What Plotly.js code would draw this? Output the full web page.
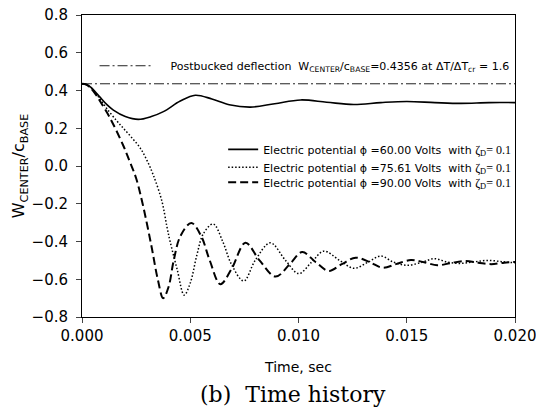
<!DOCTYPE html>
<html>
<head>
<meta charset="utf-8">
<script src="https://cdn.plot.ly/plotly-3.0.1.min.js"></script>
<style>body{margin:0;background:#fff}#chart{width:536px;height:412px}</style>
</head>
<body>
<div id="chart"></div>
<script>
const postbuckled = 0.4356;
const timeRange = [0, 0.02];
const timeTicks = [0, 0.005, 0.01, 0.015, 0.02];
const timeTickText = ['0.000', '0.005', '0.010', '0.015', '0.020'];

const t60 = [0, 0.0002, 0.0004, 0.0006, 0.00083, 0.00115, 0.00145, 0.002, 0.0026, 0.0032, 0.00376, 0.00454,
  0.00523, 0.006, 0.0068, 0.00778, 0.0089, 0.0101, 0.0113, 0.01255, 0.0138, 0.015, 0.0163, 0.0175, 0.0188, 0.02];
const w60 = [0.4356, 0.432, 0.418, 0.395, 0.365, 0.325, 0.296, 0.262, 0.247, 0.262, 0.288, 0.344,
  0.375, 0.355, 0.325, 0.312, 0.33, 0.35, 0.338, 0.326, 0.336, 0.342, 0.336, 0.332, 0.336, 0.336];

const t75 = [0, 0.0002, 0.0004, 0.0006, 0.00083, 0.00114, 0.0016, 0.00191, 0.0023, 0.00269, 0.003, 0.0033,
  0.00369, 0.00392, 0.00407, 0.0044, 0.00472, 0.005, 0.00531, 0.0056, 0.00606, 0.0065, 0.0069, 0.00747,
  0.008, 0.0087, 0.0094, 0.01001, 0.0106, 0.01117, 0.0119, 0.01256, 0.0132, 0.0138, 0.0144, 0.01503,
  0.0157, 0.01627, 0.0169, 0.0175, 0.0181, 0.01873, 0.0194, 0.02];
const w75 = [0.4356, 0.431, 0.415, 0.39, 0.355, 0.305, 0.24, 0.2, 0.15, 0.095, 0.03, -0.05,
  -0.186, -0.32, -0.4, -0.55, -0.684, -0.62, -0.47, -0.36, -0.307, -0.4, -0.52, -0.609,
  -0.5, -0.407, -0.5, -0.57, -0.51, -0.451, -0.5, -0.542, -0.51, -0.477, -0.51, -0.526,
  -0.51, -0.491, -0.51, -0.516, -0.508, -0.5, -0.507, -0.513];

const t90 = [0, 0.0002, 0.0004, 0.0006, 0.0008, 0.0013, 0.0019, 0.0022, 0.0025, 0.0028, 0.0032, 0.0035,
  0.00375, 0.004, 0.00423, 0.00455, 0.00505, 0.0055, 0.0059, 0.00639, 0.0069, 0.00755, 0.0082, 0.00894,
  0.0096, 0.01017, 0.0108, 0.0114, 0.012, 0.01264, 0.0133, 0.01388, 0.0145, 0.01519, 0.0158, 0.01642,
  0.017, 0.0177, 0.0183, 0.0189, 0.0195, 0.02];
const w90 = [0.4356, 0.431, 0.413, 0.385, 0.35, 0.253, 0.11, 0.025, -0.065, -0.2, -0.42, -0.6,
  -0.70, -0.64, -0.504, -0.37, -0.302, -0.37, -0.5, -0.626, -0.547, -0.407, -0.5, -0.586,
  -0.52, -0.456, -0.51, -0.556, -0.52, -0.486, -0.51, -0.539, -0.52, -0.498, -0.51, -0.526,
  -0.515, -0.503, -0.512, -0.52, -0.512, -0.508];

const zeta = ' with <span style="font-family:Liberation Serif;font-size:12px">ζ<sub>D</sub>= 0.1</span>';
const names = [
  'Electric potential ϕ =60.00 Volts ' + zeta,
  'Electric potential ϕ =75.61 Volts ' + zeta,
  'Electric potential ϕ =90.00 Volts ' + zeta,
];
const pbName = '\u00a0\u00a0\u00a0\u00a0Postbucked deflection  W<sub>CENTER</sub>/c<sub>BASE</sub>=0.4356 at ΔT/ΔT<sub>cr</sub> = 1.6';

const sans = 'DejaVu Sans, Verdana, sans-serif';

const traces = [
  {x: timeRange, y: [postbuckled, postbuckled], mode: 'lines', name: pbName, legend: 'legend2',
   line: {color: '#222', width: 1, dash: '10px,3px,2px,3px'}},
  {x: t60, y: w60, mode: 'lines', name: names[0], legend: 'legend',
   line: {color: '#000', width: 1.6, shape: 'spline'}},
  {x: t75, y: w75, mode: 'lines', name: names[1], legend: 'legend3',
   line: {color: '#000', width: 1.5, dash: '1.5px,2px', shape: 'spline'}},
  {x: t90, y: w90, mode: 'lines', name: names[2], legend: 'legend4',
   line: {color: '#000', width: 2, dash: '8px,4px', shape: 'spline'}},
];

const axisFont = {family: sans, size: 15, color: '#000'};
const legendBase = {xanchor: 'left', yanchor: 'top', bgcolor: 'rgba(0,0,0,0)',
  font: {family: sans, size: 11, color: '#000'}, itemwidth: 30};

Plotly.newPlot('chart', traces, {
  width: 536, height: 412,
  margin: {l: 82, r: 21, t: 15, b: 95},
  paper_bgcolor: '#fff', plot_bgcolor: '#fff',
  font: {family: sans, color: '#000'},
  showlegend: true,
  xaxis: {
    range: timeRange, tickmode: 'array', tickvals: timeTicks, ticktext: timeTickText,
    ticks: 'outside', ticklen: 5, ticklabeloverflow: 'allow',
    showgrid: false, zeroline: false, showline: true, linecolor: '#000', linewidth: 1, mirror: true,
    tickfont: axisFont,
    title: {text: 'Time, sec', font: {family: sans, size: 14}, standoff: 18},
  },
  yaxis: {
    range: [-0.8, 0.8], dtick: 0.2, tickformat: '.1f', ticks: 'outside', ticklen: 5,
    ticklabelstandoff: 5,
    showgrid: false, zeroline: false, showline: true, linecolor: '#000', linewidth: 1, mirror: true,
    tickfont: axisFont,
    title: {text: 'W<sub>CENTER</sub>/c<sub>BASE</sub>', font: {family: sans, size: 16}, standoff: 2},
  },
  legend: {...legendBase, x: 0.326, y: 0.603},
  legend3: {...legendBase, x: 0.326, y: 0.544},
  legend4: {...legendBase, x: 0.326, y: 0.494},
  legend2: {...legendBase, x: 0.029, y: 0.88, itemwidth: 52},
  annotations: [{
    text: '(b)  Time history', xref: 'paper', yref: 'paper', x: 0.487, y: -0.255,
    xanchor: 'center', yanchor: 'middle', showarrow: false,
    font: {family: 'DejaVu Serif, Liberation Serif, serif', size: 22, color: '#000'},
  }],
}, {displayModeBar: false});
</script>
</body>
</html>
